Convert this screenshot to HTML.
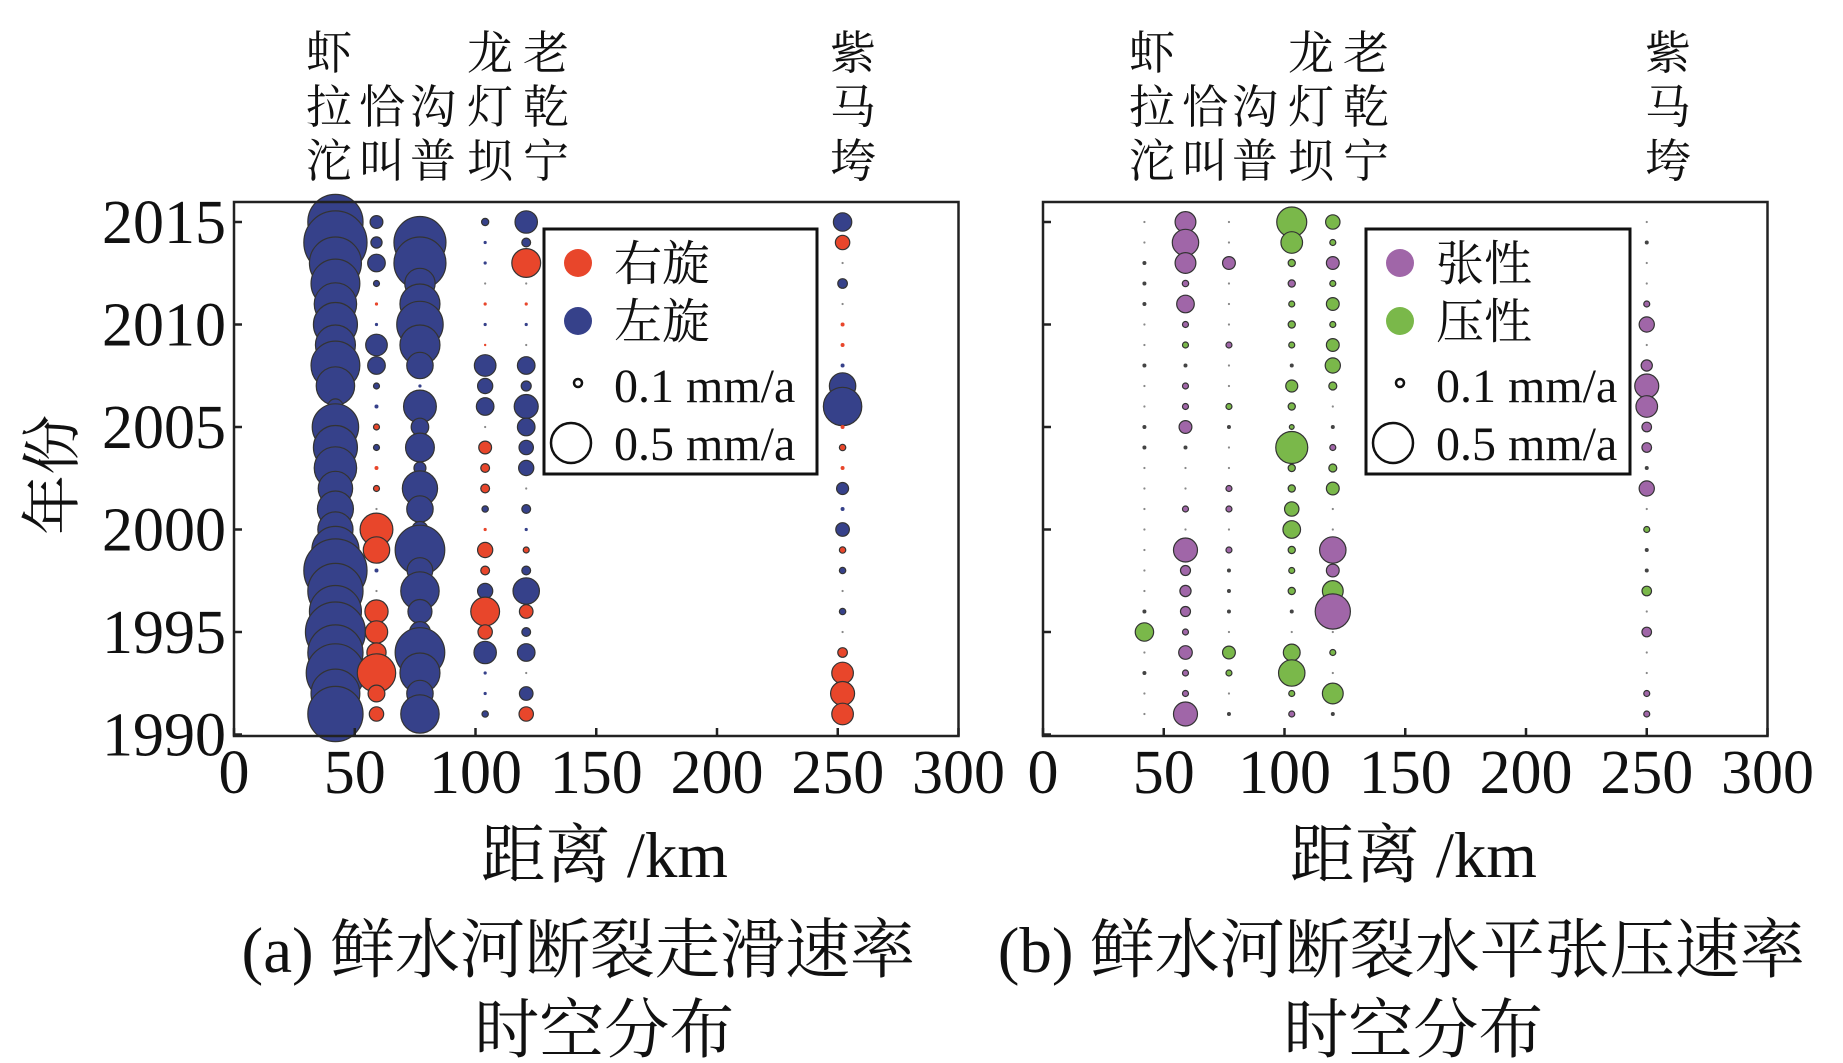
<!DOCTYPE html>
<html><head><meta charset="utf-8">
<style>
html,body{margin:0;padding:0;background:#fff;}
svg{display:block;}
text{font-family:"Liberation Serif","Noto Serif CJK SC",serif;fill:#111;}
</style></head>
<body>
<svg id="chart" width="1843" height="1063" viewBox="0 0 1843 1063" xmlns="http://www.w3.org/2000/svg">
<rect width="1843" height="1063" fill="#fff"/>
</svg>
<script>
// ---- data ----
const years = [2015,2014,2013,2012,2011,2010,2009,2008,2007,2006,2005,2004,2003,2002,2001,2000,1999,1998,1997,1996,1995,1994,1993,1992,1991];
const yTicks = [2015,2010,2005,2000,1995,1990];
const xTicks = [0,50,100,150,200,250,300];
// Panel a: + right-lateral (red), - left-lateral (blue), mm/a
const distA = [42,59,77,104,121,252];
const slipCol1 = [-.69,-.79,-.65,-.61,-.53,-.55,-.50,-.61,-.48,-.19,-.58,-.55,-.53,-.43,-.45,-.44,-.59,-.79,-.69,-.65,-.75,-.69,-.73,-.61,-.69];
const slipCol2 = [-.16,-.14,-.22,-.075,.04,-.04,-.27,-.22,-.075,-.05,.075,-.075,.05,.075,-.025,.41,.33,-.05,-.025,.29,.28,.24,.48,.21,.18];
const slipCol3 = [-.05,-.65,-.65,-.38,-.5,-.58,-.5,-.33,-.04,-.41,-.22,-.36,-.15,-.44,-.33,-.2,-.62,-.32,-.48,-.3,-.26,-.62,-.5,-.33,-.48];
const slipCol4 = [-.09,-.04,-.04,-.02,.04,-.04,.03,-.27,-.19,-.22,-.015,.16,.11,.11,-.08,.04,.19,.11,-.19,.36,.18,-.28,-.04,-.04,-.08];
const slipCol5 = [-.28,-.11,.36,-.02,.04,-.04,-.02,-.22,-.125,-.3,-.22,-.18,-.19,-.02,-.11,-.04,.075,-.11,-.33,.17,-.11,-.22,-.02,-.17,.18];
const slipCol6 = [-.23,.18,-.02,-.12,-.015,.05,.05,-.05,-.33,-.48,.05,.08,.05,-.15,-.05,-.17,.08,-.08,-.015,-.08,-.015,.12,.27,.3,.27];
// Panel b: + extension (purple), - compression (green), mm/a
const distB = [42,59,77,103,120,250];
const extCol1 = [.015,.015,.05,.05,.05,.015,.015,.05,.015,.015,.05,.05,.015,.015,.015,.015,.015,.015,.015,.05,-.23,.015,.05,.015,.015];
const extCol2 = [.26,.33,.26,.08,.22,.075,-.075,.05,.075,.075,.16,.05,.015,.015,.075,.015,.3,.125,.14,.125,.075,.17,.075,.075,.3];
const extCol3 = [.015,.015,.16,.015,.015,.015,.075,.015,.015,-.075,.05,.015,.015,.075,.075,.015,.075,.05,.05,.05,.015,-.16,-.075,.015,.05];
const extCol4 = [-.375,-.27,-.09,.09,-.075,-.09,-.075,.05,-.15,-.09,-.06,-.4,-.09,-.09,-.18,-.22,-.09,-.075,-.09,.05,.015,-.21,-.33,-.075,.075];
const extCol5 = [-.18,-.075,.16,-.075,-.16,-.075,-.16,-.19,-.1,.015,.05,.075,-.1,-.16,.015,.015,.33,.16,-.26,.44,.015,-.075,.015,-.26,.05];
const extCol6 = [.015,.05,.015,.015,.075,.19,.015,.14,.3,.27,.12,.12,.05,.19,.015,-.075,.05,.05,-.12,.015,.12,.015,.015,.075,.075];
const placeA = [["虾","拉","沱"],["","恰","叫"],["","沟","普"],["龙","灯","坝"],["老","乾","宁"],["紫","马","垮"]];
const placeXA = [329,382,433,490,546,853];
const placeXB = [1152,1205,1255,1311,1366,1668];

// ---- layout ----
const NS="http://www.w3.org/2000/svg";
const svg=document.getElementById('chart');
const TOP=202, BOT=736, PXKM=2.415;
function yScale(yr){return 222+(2015-yr)*20.5;}
function rScale(v){return Math.abs(v)*40;}
function mk(tag,attrs,parent){const e=document.createElementNS(NS,tag);for(const k in attrs)e.setAttribute(k,attrs[k]);(parent||svg).appendChild(e);return e;}

function panel(x0,id,cols,dists,posColor,negColor,darkSmall,showYLabels,places,placeX,leg,caption){
  const xScale=d=>x0+d*PXKM;
  const g=mk('g',{});
  
  
  cols.forEach((col,ci)=>{
    col.forEach((v,i)=>{
      const r=rScale(v);
      let fill=v>=0?posColor:negColor, stroke='#333', sw=1.2, rr=r;
      if(r<1.2){rr=1.1;fill='#888';stroke='none';}
      else if(darkSmall && r<=2.2){fill='#444';stroke='none';rr=2;}
      else if(r<=2.2){stroke='none';}
      const c=mk('circle',{cx:xScale(dists[ci]),cy:yScale(years[i]),r:rr,fill:fill,stroke:stroke,'stroke-width':sw},g);
      
      
    });
  });
  const fr=mk('rect',{x:x0,y:TOP,width:300*PXKM,height:BOT-TOP,fill:'none',stroke:'#222','stroke-width':2.5},g);
  
  
  yTicks.forEach(t=>{
    const y=yScale(t);
    mk('line',{x1:x0,x2:x0+8,y1:y,y2:y,stroke:'#222','stroke-width':2.5},g);
    if(showYLabels){
      const tx=mk('text',{x:226,y:y+21,'font-size':62,'text-anchor':'end'},g);
      tx.textContent=t;
      
      
    }
  });
  xTicks.forEach(t=>{
    const x=xScale(t);
    mk('line',{x1:x,x2:x,y1:BOT,y2:BOT-8,stroke:'#222','stroke-width':2.5},g);
    const tx=mk('text',{x:x,y:793,'font-size':62,'text-anchor':'middle'},g);
    tx.textContent=t;
    
    
  });
  places.forEach((p,i)=>{
    p.forEach((ch,j)=>{
      if(!ch)return;
      const tx=mk('text',{x:placeX[i],y:69+j*54,'font-size':46,'text-anchor':'middle'},g);
      tx.textContent=ch;
      
      
    });
  });
  const lg=mk('g',{},g);
  
  
  mk('rect',{x:leg.x,y:229,width:leg.w,height:245,fill:'#fff',stroke:'#111','stroke-width':3},lg);
  const rows=[[263,'dot',posColor,leg.l1],[321,'dot',negColor,leg.l2],[385,'s',null,'0.1 mm/a'],[443,'b',null,'0.5 mm/a']];
  rows.forEach(rw=>{
    const e=mk('g',{},lg);
    
    
    if(rw[1]==='dot')mk('circle',{cx:leg.x+34,cy:rw[0],r:14,fill:rw[2]},e);
    else if(rw[1]==='s')mk('circle',{cx:leg.x+34,cy:rw[0]-2,r:4,fill:'none',stroke:'#111','stroke-width':2.5},e);
    else mk('circle',{cx:leg.x+27,cy:rw[0],r:20,fill:'none',stroke:'#111','stroke-width':2.5},e);
    const tx=mk('text',{x:leg.x+70,y:rw[0]+17,'font-size':48},e);
    tx.textContent=rw[3];
  });
  const cx=x0+150*PXKM;
  const xt=mk('text',{x:cx+8,y:877,'font-size':65,'text-anchor':'middle'},g);
  xt.textContent='距离 /km';
  
  
  const c1=mk('text',{x:cx+(id==='panel-a'?-18:-4),y:972,'font-size':65,'text-anchor':'middle'},g);
  c1.textContent=caption;
  
  
  const c2=mk('text',{x:cx+8,y:1052,'font-size':65,'text-anchor':'middle'},g);
  c2.textContent='时空分布';
  
  
}

panel(234,'panel-a',[slipCol1,slipCol2,slipCol3,slipCol4,slipCol5,slipCol6],distA,'#e8462b','#36418a',false,true,placeA,placeXA,{x:544,w:273,l1:'右旋',l2:'左旋'},'(a) 鲜水河断裂走滑速率');
panel(1043,'panel-b',[extCol1,extCol2,extCol3,extCol4,extCol5,extCol6],distB,'#a066a8','#7ab84a',true,false,placeA,placeXB,{x:1366,w:264,l1:'张性',l2:'压性'},'(b) 鲜水河断裂水平张压速率');

const yt=mk('text',{x:0,y:0,'font-size':60,'text-anchor':'middle',transform:'translate(73,475) rotate(-90)'});
yt.textContent='年份';


</script>
</body></html>
